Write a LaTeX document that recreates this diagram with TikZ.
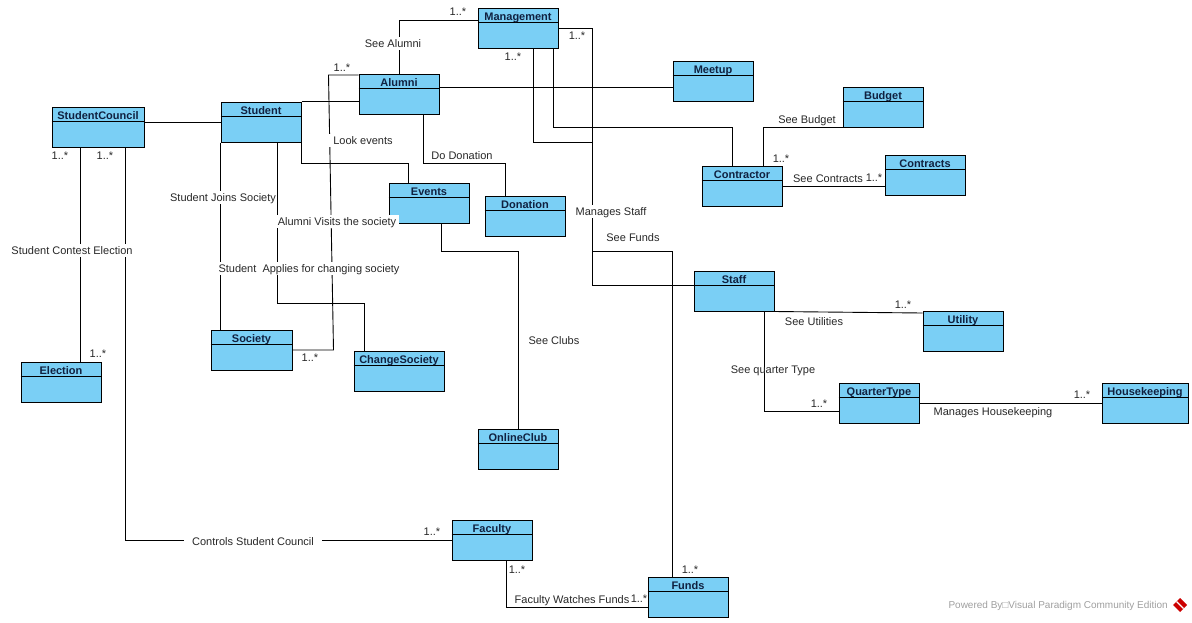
\documentclass[tikz,border=0pt]{standalone}
\usepackage{fontspec}
\setmainfont{Liberation Sans}
\definecolor{celeste}{RGB}{122,207,245}
\definecolor{blunotte}{RGB}{16,33,64}
\definecolor{grafite}{RGB}{40,40,40}

\begin{document}
\begin{tikzpicture}[
    x=1pt, y=-1pt,
    font=\fontsize{11}{13}\selectfont,
    classe/.style={rectangle,draw=black,line width=1pt,fill=celeste,
                   minimum width=80pt,minimum height=40pt,inner sep=0pt},
    titolo/.style={anchor=base,inner sep=0pt,text=blunotte,
                   font=\bfseries\fontsize{11}{13}\selectfont},
    assoc/.style={line width=0.9pt},
    etich/.style={fill=white,inner sep=1.5pt,text=grafite,
                  text height=9pt,text depth=1pt},
    molt/.style={inner sep=0pt,text=grafite}]

  \useasboundingbox (0,0) rectangle (1192,622);

  % classi
  \foreach \n/\x/\y/\w/\t in {
      mgmt/518/28/80/Management,      alumni/399/94/80/Alumni,
      student/261/122/80/Student,     sc/98/127/92/StudentCouncil,
      meetup/713/81/80/Meetup,        budget/883/107/80/Budget,
      contracts/925/175/80/Contracts, contractor/742/186/80/Contractor,
      events/429/203/80/Events,       donation/525/216/80/Donation,
      staff/734/291/80/Staff,         utility/963/331/80/Utility,
      qtype/879/403/80/QuarterType,   housek/1145/403/86/Housekeeping,
      society/251.5/350/81/Society,   changesoc/399/371/90/ChangeSociety,
      election/61/382/80/Election,    online/518/449/80/OnlineClub,
      faculty/492/540/80/Faculty,     funds/688/597/80/Funds}
  {
    \node[classe,minimum width=\w pt] (\n) at (\x,\y) {};
    \draw[line width=1pt] ([yshift=-15pt]\n.north west) -- ([yshift=-15pt]\n.north east);
    \node[titolo] (\n-t) at ([yshift=-12.5pt]\n.north) {\t};
  }

  % associazioni
  \draw[assoc] (sc.east |- student.west) -- (student.west);
  \draw[assoc] (student.north east) -- (student.north east -| alumni.west);
  \draw[assoc] (alumni.north) |- ([yshift=8pt]mgmt.west);
  \draw[assoc] ([yshift=7pt]alumni.east) -- ([yshift=-6pt]meetup.west);
  \draw[assoc] ([yshift=19pt]alumni.west) -- ++(-30,0)
               -- ([xshift=41pt]society.east) -- (society.east);
  \draw[assoc] ([xshift=24pt]alumni.south) -- ++(0,49) -| ([xshift=-20pt]donation.north);
  \draw[assoc] (student.south west) -- (student.south west |- society.north);
  \draw[assoc] ([xshift=16pt]student.south) -- ++(0,161) -| ([xshift=-35pt]changesoc.north);
  \draw[assoc] (student.south east) -- ++(0,21) -| ([xshift=-21pt]events.north);
  \draw[assoc] ([xshift=12pt]events.south) -- ++(0,28) -| (online.north);
  \draw[assoc] ([xshift=-18pt]sc.south) -- ([xshift=-18pt]sc.south |- election.north);
  \draw[assoc] ([xshift=27pt]sc.south) |- (faculty.west);
  \draw[assoc] (mgmt.east) -- ++(34,0) |- ([yshift=6pt]staff.west);
  \draw[assoc] ([xshift=15pt]mgmt.south) -- ++(0,94) -- ++(59,0) -- ++(0,109)
               -| ([xshift=-16pt]funds.north);
  \draw[assoc] ([xshift=35pt]mgmt.south) -- ++(0,79) -| ([xshift=-10pt]contractor.north);
  \draw[assoc] ([xshift=21pt]contractor.north) |- (budget.south west);
  \draw[assoc] (contractor.east) -- (contractor.east -| contracts.west);
  \draw[assoc] (staff.south east) -- ([yshift=18pt]utility.west);
  \draw[assoc] ([xshift=30pt]staff.south) |- ([yshift=-8pt]qtype.west);
  \draw[assoc] (qtype.east) -- (housek.west);
  \draw[assoc] ([xshift=14pt]faculty.south) |- ([yshift=-10pt]funds.west);

  % etichette
  \node[etich] (lalumni) at (393,43) {See Alumni};
  \node[etich,inner xsep=5pt] (levents) at (363,140) {Look events};
  \node[etich,inner xsep=7pt] (ldonation) at (462,155) {Do Donation};
  \node[etich] (ljoins) at (223,197) {Student Joins Society};
  \node[etich,inner xsep=3pt] (lvisits) at (337,221) {Alumni Visits the society};
  \node[etich] (lapplies) at (309,268) {Student~~Applies for changing society};
  \node[etich] (lelection) at (72,250) {Student Contest Election};
  \node[etich] (lclubs) at (554,340) {See Clubs};
  \node[etich] (lstaff) at (611,211) {Manages Staff};
  \node[etich] (lfunds) at (633,237) {See Funds};
  \node[etich] (lbudget) at (807,119) {See Budget};
  \node[etich,inner sep=0pt] (lcontracts) at (828,178) {See Contracts};
  \node[etich] (lutility) at (814,321) {See Utilities};
  \node[etich,fill=none] (lquarter) at (773,369) {See quarter Type};
  \node[etich] (lhousek) at (993,411) {Manages Housekeeping};
  \node[etich,inner xsep=8pt] (lcontrols) at (253,541) {Controls Student Council};
  \node[etich,inner sep=0pt] (lwatches) at (572,599) {Faculty Watches Funds};

  % molteplicita
  \foreach \x/\y [count=\i] in {458/12, 342/68, 577/36, 513/57, 60/156, 105/156,
      98/354, 310/358, 781/159, 874/178, 903/305, 819/404, 1082/395,
      432/532, 517/570, 690/570, 639/599}
    \node[molt] (m\i) at (\x,\y) {1..*};

  % marchio
  \node[anchor=east,inner sep=0pt,text=gray!75,font=\fontsize{10}{12}\selectfont]
    (vp) at (1168,606) {Powered By□Visual Paradigm Community Edition};
  \fill[red!80!black] (1180,598) -- (1187,605) -- (1180,612) -- (1173,605) -- cycle;
  \draw[white,line width=1.2pt] (1176.5,601.5) -- (1183.5,608.5);

\end{tikzpicture}
\end{document}
